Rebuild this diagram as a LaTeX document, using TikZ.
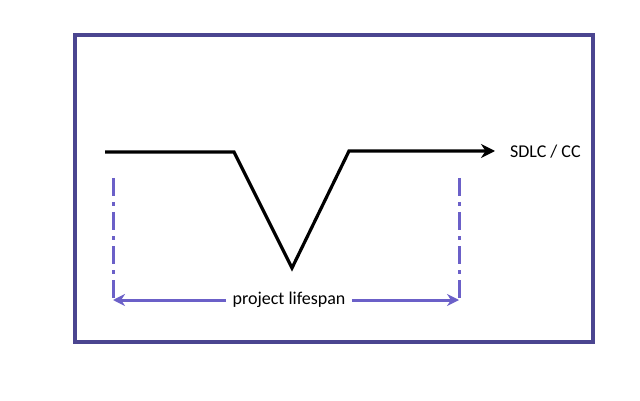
\documentclass[tikz,border=0pt]{standalone}
\usepackage{fontspec}
\setmainfont{Carlito}
\usetikzlibrary{arrows.meta}
\definecolor{frame}{HTML}{4B4590}
\definecolor{lav}{HTML}{6B60C8}
\begin{document}
\begin{tikzpicture}[x=0.5pt,y=-0.5pt,
  dd/.style={lav,line width=1.5pt,dash pattern=on 9pt off 3pt on 2pt off 3pt}]
\useasboundingbox (0,0) rectangle (640,400);
\draw[frame,line width=1.6pt] (75,35) rectangle (593,342);
\coordinate (a) at (105,152);
\coordinate (b) at (234,152);
\coordinate (c) at (292,268);
\coordinate (d) at (349,151);
\coordinate (e) at (495,151);
\draw[line width=1.6pt,-{Stealth[length=7pt,width=7pt]}] (a) -- (b) -- (c) -- (d) -- (e);
\node[anchor=west,font=\small] (t) at (503,152) {SDLC / CC};
\coordinate (l1) at (113,178); \coordinate (l2) at (113,300);
\coordinate (r1) at (459,178); \coordinate (r2) at (459,300);
\draw[dd] (l1) -- (l2);
\draw[dd] (r1) -- (r2);
\node[font=\small,fill=white,inner sep=3pt] (p) at (289,300) {project lifespan};
\draw[lav,line width=1.5pt,-{Stealth[length=6pt,width=6pt]}] (p.west) -- (l2);
\draw[lav,line width=1.5pt,-{Stealth[length=6pt,width=6pt]}] (p.east) -- (r2);
\end{tikzpicture}
\end{document}
